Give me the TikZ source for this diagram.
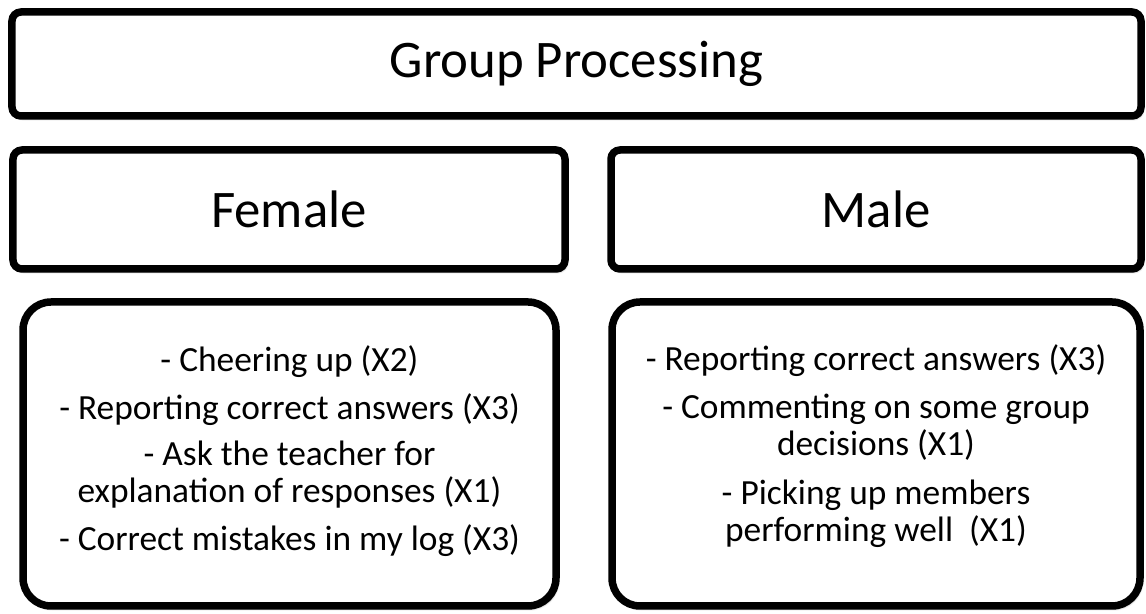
\documentclass[tikz,border=0pt]{standalone}
\usepackage{fontspec}
\setmainfont{Carlito}
\usetikzlibrary{shadows.blur}
\begin{document}
\begin{tikzpicture}[x=1bp,y=1bp,
    headbox/.style={draw=black,line width=7.5bp,fill=white,rounded corners=9bp,
      blur shadow={shadow xshift=2bp,shadow yshift=-3bp,shadow blur steps=6,shadow opacity=40},
      inner sep=0pt,font=\fontsize{53}{60}\selectfont},
    listbox/.style={draw=black,line width=7.5bp,fill=white,rounded corners=28bp,
      blur shadow={shadow xshift=2bp,shadow yshift=-3bp,shadow blur steps=6,shadow opacity=40},
      inner sep=0pt,align=center,font=\fontsize{35.5}{37.5}\selectfont}]
  \useasboundingbox (0,0) rectangle (1146,614);

  % Title across the top
  \node[headbox,minimum width=1129bp,minimum height=104bp] (title) at (576.5,550) {Group Processing};

  % Female / Male headers
  \node[headbox,minimum width=552bp,minimum height=119bp] (female) at (289,404.5) {Female};
  \node[headbox,minimum width=530bp,minimum height=119bp] (male) at (876,404.5) {Male};

  % Female answers
  \draw[listbox] (23,8) rectangle (556,312);
  \node[align=center,font=\fontsize{35.5}{37.5}\selectfont] (femalelist) at (289.5,163)
    {- Cheering up (X2)\\[10bp]
     - Reporting correct answers (X3)\\[9bp]
     - Ask the teacher for\\
     explanation of responses (X1)\\[10bp]
     - Correct mistakes in my log (X3)};

  % Male answers
  \draw[listbox] (612,8) rectangle (1140,312);
  \node[align=center,font=\fontsize{35.5}{37.5}\selectfont] (malelist) at (876,168)
    {- Reporting correct answers (X3)\\[11bp]
     - Commenting on some group\\
     decisions (X1)\\[11bp]
     - Picking up members\\
     performing well\ \ (X1)};
\end{tikzpicture}
\end{document}
